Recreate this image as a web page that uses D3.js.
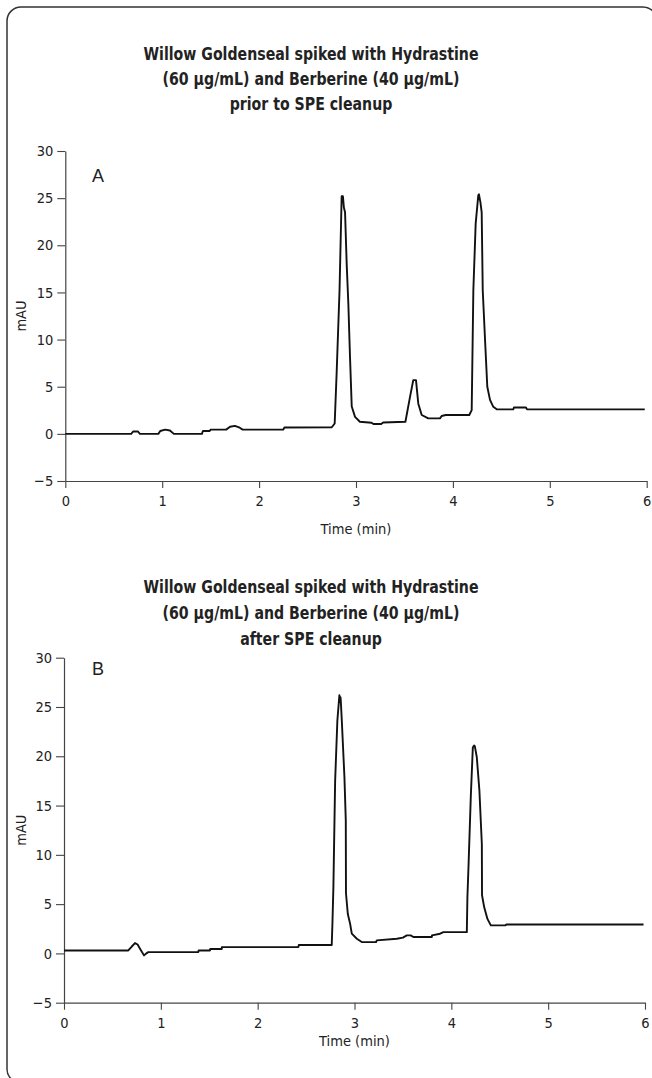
<!DOCTYPE html>
<html>
<head>
<meta charset="utf-8">
<script src="https://cdn.jsdelivr.net/npm/d3@7"></script>
<style>
  body { margin: 0; background: #fff; }
  svg text { font-family: "Liberation Sans Narrow", "DejaVu Sans Condensed", "Roboto Condensed", sans-serif; fill: #222; }
</style>
</head>
<body>
<div id="chart"></div>
<script>
// chart titles
var titleA = ["Willow Goldenseal spiked with Hydrastine", "(60 \u00b5g/mL) and Berberine (40 \u00b5g/mL)", "prior to SPE cleanup"];
var titleB = ["Willow Goldenseal spiked with Hydrastine", "(60 \u00b5g/mL) and Berberine (40 \u00b5g/mL)", "after SPE cleanup"];

// axis ticks
var xTicks = [0, 1, 2, 3, 4, 5, 6];
var yTicks = [-5, 0, 5, 10, 15, 20, 25, 30];

// trace A (prior to SPE cleanup) : time (min) and absorbance (mAU)
var timeA = [0, 0.68, 0.70, 0.75, 0.77, 0.96, 0.98, 1.03, 1.08, 1.12, 1.41, 1.42, 1.49, 1.50, 1.66, 1.70, 1.75, 1.80, 1.83,
  2.25, 2.26, 2.75, 2.78, 2.80, 2.83, 2.852, 2.865, 2.875, 2.887, 2.904, 2.921, 2.938, 2.956, 2.99, 3.04, 3.16, 3.18,
  3.26, 3.28, 3.51, 3.557, 3.591, 3.619, 3.643, 3.678, 3.746, 3.867, 3.884, 3.926, 4.169, 4.194, 4.211, 4.235, 4.262,
  4.269, 4.285, 4.297, 4.308, 4.332, 4.355, 4.383, 4.417, 4.452, 4.623, 4.63, 4.754, 4.765, 5.98];
var mauA = [0, 0, 0.25, 0.25, 0, 0, 0.3, 0.45, 0.35, 0, 0, 0.3, 0.3, 0.45, 0.45, 0.75, 0.85, 0.65, 0.45,
  0.45, 0.67, 0.7, 1.1, 6.4, 15.2, 25.2, 25.2, 24.0, 23.5, 18, 13.8, 8.2, 2.9, 1.8, 1.28, 1.18, 1.04,
  1.04, 1.2, 1.28, 3.9, 5.7, 5.7, 3.2, 2.0, 1.64, 1.64, 1.89, 2.0, 2.0, 2.52, 15.2, 22.3, 25.3,
  25.4, 24.5, 23.5, 15.2, 9.9, 5.0, 3.6, 2.87, 2.6, 2.6, 2.8, 2.8, 2.6, 2.6];

// trace B (after SPE cleanup)
var timeB = [0, 0.664, 0.70, 0.733, 0.76, 0.785, 0.826, 0.85, 0.871, 1.387, 1.39, 1.508, 1.51, 1.629, 1.63, 2.42, 2.425,
  2.765, 2.772, 2.782, 2.80, 2.823, 2.844, 2.850, 2.855, 2.858, 2.869, 2.896, 2.910, 2.912, 2.931, 2.955, 2.972,
  3.024, 3.075, 3.223, 3.230, 3.437, 3.50, 3.54, 3.58, 3.608, 3.799, 3.80, 3.884, 3.918, 4.160, 4.166, 4.177,
  4.201, 4.222, 4.235, 4.243, 4.263, 4.290, 4.315, 4.317, 4.339, 4.373, 4.408, 4.556, 4.573, 5.985];
var mauB = [0.3, 0.3, 0.7, 1.05, 0.9, 0.48, -0.2, 0.0, 0.13, 0.13, 0.3, 0.3, 0.45, 0.45, 0.64, 0.64, 0.85,
  0.85, 3.0, 6.7, 17.5, 23.6, 26.2, 25.5, 26.0, 25.7, 23.6, 17.9, 13.5, 6.1, 4.0, 3.0, 2.0,
  1.49, 1.15, 1.15, 1.32, 1.49, 1.6, 1.83, 1.83, 1.66, 1.66, 1.83, 2.0, 2.16, 2.16, 5.7, 8.75,
  15.9, 20.9, 21.1, 21.0, 19.9, 16.5, 11.1, 5.9, 4.7, 3.5, 2.84, 2.84, 2.94, 2.94];

var W = 652, H = 1078;

var svg = d3.select("#chart").append("svg")
  .attr("width", W).attr("height", H);

// rounded frame around both panels
svg.append("rect")
  .attr("x", 7).attr("y", 7)
  .attr("width", 650).attr("height", 1076)
  .attr("rx", 14).attr("ry", 14)
  .attr("fill", "none").attr("stroke", "#333").attr("stroke-width", 1.5);

// draw one chromatogram panel
function drawPanel(p) {
  var x = d3.scaleLinear().domain([0, 6]).range([p.left, p.right]);
  var y = d3.scaleLinear().domain([-5, 30]).range([p.bottom, p.top]);
  var g = svg.append("g");

  // title lines (squeezed a bit to look like a condensed face)
  g.selectAll(".title")
    .data(p.title)
    .enter().append("text")
    .attr("transform", function(d, i) { return "translate(311," + (p.titleY + i * p.titleGap) + ") scale(0.85,1)"; })
    .attr("text-anchor", "middle")
    .style("font-size", "18.5px")
    .style("font-weight", "bold")
    .text(function(d) { return d; });

  // x axis
  var xAxis = g.append("g")
    .attr("transform", "translate(0," + p.bottom + ")")
    .call(d3.axisBottom(x).tickValues(xTicks).tickFormat(d3.format("d")).tickSize(7).tickPadding(8).tickSizeOuter(0));
  // y axis
  var yAxis = g.append("g")
    .attr("transform", "translate(" + p.left + ",0)")
    .call(d3.axisLeft(y).tickValues(yTicks).tickFormat(function(d) { return d < 0 ? "\u2212" + (-d) : d; })
      .tickSize(8).tickPadding(4).tickSizeOuter(0));

  [xAxis, yAxis].forEach(function(a) {
    a.select(".domain").attr("stroke", "#444").attr("stroke-width", 1.2);
    a.selectAll(".tick line").attr("stroke", "#444").attr("stroke-width", 1.1);
    a.selectAll(".tick text").style("font-size", "14.5px").attr("fill", "#222");
  });

  // axis labels
  g.append("text")
    .attr("x", (p.left + p.right) / 2).attr("y", p.xLabelY)
    .attr("text-anchor", "middle")
    .style("font-size", "14.5px")
    .text("Time (min)");
  g.append("text")
    .attr("transform", "translate(26," + (p.top + p.bottom) / 2 + ") rotate(-90)")
    .attr("text-anchor", "middle")
    .style("font-size", "14.5px")
    .text("mAU");

  // panel letter
  g.append("text")
    .attr("x", 92).attr("y", p.letterY)
    .style("font-family", "'Liberation Sans', Arial, sans-serif")
    .style("font-size", "18px")
    .text(p.letter);

  // the trace
  var pts = p.time.map(function(t, i) { return [t, p.mau[i]]; });
  var line = d3.line()
    .x(function(d) { return x(d[0]); })
    .y(function(d) { return y(d[1]); });
  g.append("path")
    .datum(pts)
    .attr("d", line)
    .attr("fill", "none")
    .attr("stroke", "#111")
    .attr("stroke-width", 1.9)
    .attr("stroke-linejoin", "round");
}

drawPanel({ title: titleA, titleY: 60, titleGap: 25, left: 65.3, right: 646.7, top: 151, bottom: 481,
  xLabelY: 534, letter: "A", letterY: 182, time: timeA, mau: mauA });
drawPanel({ title: titleB, titleY: 593, titleGap: 26, left: 64, right: 645, top: 657.7, bottom: 1002.7,
  xLabelY: 1046, letter: "B", letterY: 675, time: timeB, mau: mauB });
</script>
</body>
</html>
